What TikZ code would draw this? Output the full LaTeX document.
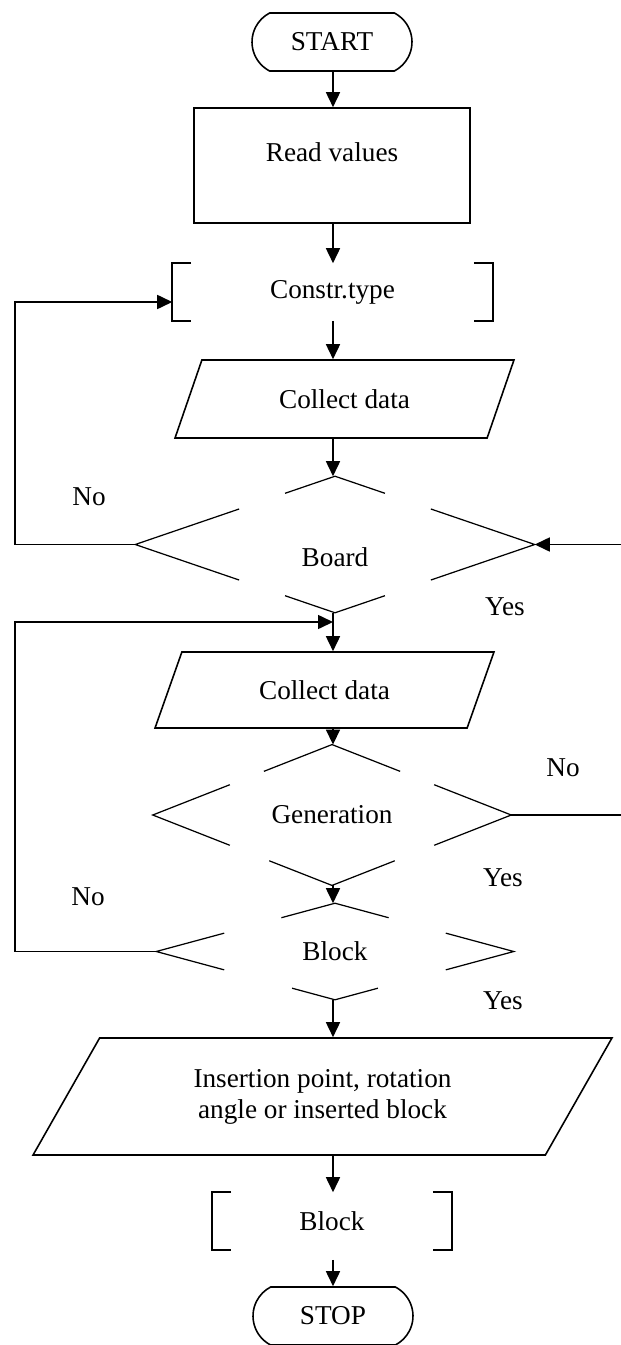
\documentclass[tikz,border=0pt]{standalone}
\usepackage{fontspec}
\setmainfont{Liberation Serif}
\usetikzlibrary{shapes.geometric,shapes.misc,arrows.meta,calc}

\begin{document}
\begin{tikzpicture}[x=0.02cm, y=-0.02cm, line width=0.9pt,
    every node/.style={font=\fontsize{15.5}{17.6}\selectfont},
    term/.style={draw, rounded rectangle, rounded rectangle arc length=125,
      minimum width=3.2cm, minimum height=1.16cm, inner sep=0pt},
    proc/.style={draw, rectangle, minimum width=5.52cm, minimum height=2.3cm},
    iobox/.style={draw, trapezium, trapezium stretches body},
    decision/.style={diamond, inner sep=0pt},
    arr/.style={-{Triangle[length=0.3cm,width=0.28cm]}}]
  \useasboundingbox (0,0) rectangle (621,1345);
  \coordinate (axis) at (333,0);
  \coordinate (leftrail) at (15,0);
  \coordinate (rightedge) at (621,0);
  \coordinate (join) at (333,622);

  \node[term] (start) at (332,42) {START};
  \node[proc, text height=0.37cm, text depth=0.52cm] (readv) at (332,165.5) {Read values};
  \node[minimum width=6.38cm, minimum height=1.12cm] (constr) at (332.5,292) {Constr.type};
  \node[iobox, trapezium left angle=49, trapezium right angle=131,
    minimum width=6.78cm, minimum height=1.56cm] (coll1) at (344.5,399) {Collect data};
  \node[decision, minimum width=7.96cm, minimum height=2.7cm,
    text height=0.86cm, text depth=0pt] (board) at (335,544.5) {Board};
  \node[iobox, trapezium left angle=49, trapezium right angle=131,
    minimum width=6.78cm, minimum height=1.52cm] (coll2) at (324.5,690) {Collect data};
  \node[decision, minimum width=7.14cm, minimum height=1.92cm] (gen) at (332,815) {Generation};
  \node[decision, minimum width=7.12cm, minimum height=1.9cm] (blkd) at (335,951.5) {Block};
  \node[iobox, trapezium left angle=45, trapezium right angle=135, align=center,
    minimum width=11.58cm, minimum height=2.34cm] (ins) at (322.5,1096.5)
    {Insertion point, rotation\\angle or inserted block};
  \node[minimum width=4.76cm, minimum height=1.12cm] (blk) at (332,1221) {Block};
  \node[term] (stop) at (333,1316) {STOP};

  \node (noboard) at (89,497) {No};
  \node (yesboard) at (505,607) {Yes};
  \node (nogen) at (563,768) {No};
  \node (yesgen) at (503,878) {Yes};
  \node (noblk) at (88,897) {No};
  \node (yesblk) at (503,1001) {Yes};

  % brackets
  \foreach \n in {constr, blk} {
    \draw ([xshift=0.38cm]\n.north west) -| (\n.south west) -- ++(0.38cm,0);
    \draw ([xshift=-0.38cm]\n.north east) -| (\n.south east) -- ++(-0.38cm,0);
  }
  % decisions, drawn only in part
  \foreach \n/\t/\s/\b in {board/0.25/0.52/0.25, gen/0.38/0.43/0.35, blkd/0.30/0.38/0.24} {
    \draw[line width=0.7pt] ($(\n.north)!\t!(\n.west)$) -- (\n.north) -- ($(\n.north)!\t!(\n.east)$);
    \draw[line width=0.7pt] ($(\n.south)!\b!(\n.west)$) -- (\n.south) -- ($(\n.south)!\b!(\n.east)$);
    \draw[line width=0.7pt] ($(\n.west)!\s!(\n.north)$) -- (\n.west) -- ($(\n.west)!\s!(\n.south)$);
    \draw[line width=0.7pt] ($(\n.east)!\s!(\n.north)$) -- (\n.east) -- ($(\n.east)!\s!(\n.south)$);
  }

  \begin{scope}[arr]
    \draw (start.south -| axis) -- (readv.north -| axis);
    \draw (readv.south -| axis) -- (constr.north -| axis);
    \draw (constr.south -| axis) -- (coll1.north -| axis);
    \draw (coll1.south -| axis) -- (board.north -| axis);
    \draw (board.south -| axis) -- (coll2.north -| axis);
    \draw (coll2.south -| axis) -- (gen.north -| axis);
    \draw (gen.south -| axis) -- (blkd.north -| axis);
    \draw (blkd.south -| axis) -- (ins.north -| axis);
    \draw (ins.south -| axis) -- (blk.north -| axis);
    \draw[shorten <=0.2cm] (blk.south -| axis) -- (stop.north -| axis);
    \draw (board.west) -- (board.west -| leftrail) |- ([yshift=-0.2cm]constr.west);
    \draw (blkd.west) -- (blkd.west -| leftrail) |- (join);
    \draw (board.east -| rightedge) -- (board.east);
  \end{scope}
  \draw (gen.east) -- (gen.east -| rightedge);
\end{tikzpicture}
\end{document}
